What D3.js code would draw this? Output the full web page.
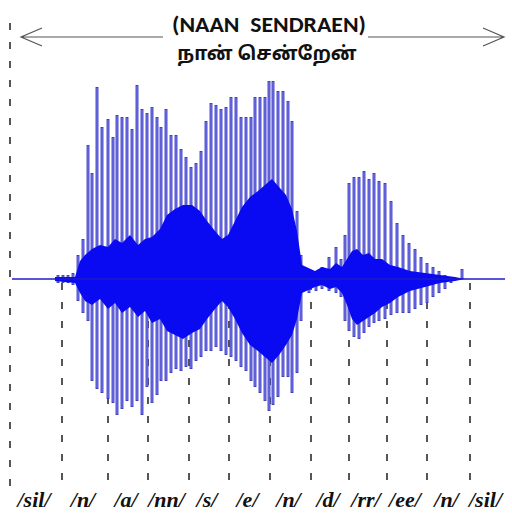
<!DOCTYPE html>
<html>
<head>
<meta charset="utf-8">
<script src="https://cdn.jsdelivr.net/npm/d3@7"></script>
<style>
  body { margin: 0; background: #fff; }
  svg { display: block; }
</style>
</head>
<body>
<svg></svg>
<script>
// phone segment boundaries (ms) and labels
let boundaries = [0, 104, 196, 276, 358, 438, 520, 602, 678, 754, 834, 920];
let phones = ["/sil/", "/n/", "/a/", "/nn/", "/s/", "/e/", "/n/", "/d/", "/rr/", "/ee/", "/n/", "/sil/"];
let endTime = 990;

// pitch pulses: time (ms), positive peak, negative peak (normalised amplitude)
let pulseTime = [96, 106, 116, 126,
    136, 146, 156, 164, 174, 184, 196, 206, 214, 224, 234, 244, 254, 264, 274, 284, 294,
    302, 312, 322, 332, 342, 352, 362, 372, 382, 392, 402, 412, 422, 432, 442, 452, 462,
    472, 482, 490, 500, 510, 518, 526, 536, 546, 556, 564, 574, 582,
    598, 612, 624, 638, 652, 662,
    670, 678, 688, 698, 708, 718, 728, 738, 750, 762, 774, 786, 798, 810, 822, 834, 846,
    858, 870, 882, 904];
let pulseHi = [0.02, 0.02, 0.02, 0.03,
    0.12, 0.20, 0.67, 0.53, 0.96, 0.76, 0.80, 0.71, 0.82, 0.81, 0.81, 0.75, 0.97, 0.85, 0.83, 0.86, 0.81,
    0.76, 0.85, 0.72, 0.72, 0.65, 0.61, 0.56, 0.58, 0.64, 0.79, 0.88, 0.87, 0.85, 0.86, 0.91, 0.91, 0.81,
    0.81, 0.81, 0.91, 0.91, 0.91, 0.99, 0.99, 0.94, 0.94, 0.89, 0.79, 0.34, 0.12,
    0.05, 0.04, 0.06, 0.11, 0.16, 0.10,
    0.22, 0.48, 0.51, 0.51, 0.54, 0.50, 0.53, 0.49, 0.48, 0.39, 0.28, 0.22, 0.18, 0.15, 0.11, 0.08, 0.06,
    0.04, 0.02, 0.01, 0.05];
let pulseLo = [-0.02, -0.02, -0.02, -0.03,
    -0.11, -0.17, -0.21, -0.51, -0.55, -0.57, -0.60, -0.62, -0.68, -0.65, -0.61, -0.64, -0.61, -0.68, -0.54, -0.62, -0.58,
    -0.51, -0.51, -0.47, -0.45, -0.46, -0.44, -0.45, -0.41, -0.39, -0.36, -0.36, -0.34, -0.36, -0.38, -0.39, -0.41, -0.44,
    -0.46, -0.51, -0.54, -0.57, -0.61, -0.66, -0.63, -0.59, -0.49, -0.49, -0.57, -0.47, -0.21,
    -0.07, -0.06, -0.05, -0.06, -0.07, -0.09,
    -0.21, -0.26, -0.29, -0.30, -0.27, -0.24, -0.22, -0.21, -0.20, -0.18, -0.17, -0.17, -0.17, -0.15, -0.13, -0.12, -0.09,
    -0.07, -0.05, -0.02, 0];

// dense inner part of the signal
let coreTime = [90, 130, 140, 150, 164, 180, 196, 210, 224, 240, 256, 270, 284, 300, 314, 330, 346, 364, 380, 394,
    410, 424, 436, 450, 464, 480, 496, 510, 524, 538, 552, 564, 574, 584,
    610, 624, 640, 652, 664, 674, 684, 694, 706, 718, 730, 744, 760, 776, 800, 830, 860, 890, 910];
let coreHi = [0.01, 0.01, 0.09, 0.12, 0.15, 0.17, 0.16, 0.20, 0.18, 0.22, 0.17, 0.20, 0.21, 0.25, 0.32, 0.35, 0.37, 0.37, 0.34, 0.29,
    0.24, 0.20, 0.22, 0.29, 0.36, 0.41, 0.44, 0.47, 0.50, 0.46, 0.42, 0.35, 0.24, 0.07,
    0.04, 0.06, 0.05, 0.08, 0.06, 0.10, 0.14, 0.15, 0.12, 0.13, 0.10, 0.10, 0.07, 0.06, 0.04, 0.03, 0.02, 0.01, 0];
let coreLo = [-0.01, -0.02, -0.07, -0.11, -0.13, -0.10, -0.15, -0.12, -0.17, -0.14, -0.19, -0.16, -0.22, -0.20, -0.26, -0.28, -0.30, -0.27, -0.25, -0.20,
    -0.15, -0.11, -0.14, -0.20, -0.27, -0.33, -0.36, -0.39, -0.42, -0.38, -0.33, -0.28, -0.20, -0.07,
    -0.04, -0.03, -0.05, -0.04, -0.07, -0.13, -0.20, -0.23, -0.21, -0.19, -0.17, -0.14, -0.12, -0.09, -0.06, -0.04, -0.02, -0.01, 0];

let width = 512, height = 519;

let svg = d3.select("svg")
    .attr("width", width)
    .attr("height", height);

let x = d3.scaleLinear().domain([0, endTime]).range([10, 505]);
let y = d3.scaleLinear().domain([-1, 1]).range([479, 79]);

// title + arrows
svg.append("text")
    .attr("x", 269).attr("y", 32)
    .attr("text-anchor", "middle")
    .attr("font-family", "Carlito, 'Liberation Sans', Arial, sans-serif")
    .attr("font-weight", "bold")
    .attr("font-size", 22)
    .attr("textLength", 194)
    .attr("lengthAdjust", "spacingAndGlyphs")
    .attr("fill", "#111")
    .style("white-space", "pre")
    .text("(NAAN  SENDRAEN)");

svg.append("text")
    .attr("x", 267).attr("y", 60)
    .attr("text-anchor", "middle")
    .attr("font-family", "'Noto Sans Tamil', 'Lohit Tamil', 'Noto Sans', sans-serif")
    .attr("font-weight", "bold")
    .attr("font-size", 19)
    .attr("fill", "#111")
    .text("நான் சென்றேன்");

let arrows = svg.append("g")
    .attr("fill", "none")
    .attr("stroke", "#555")
    .attr("stroke-width", 1.2);
arrows.append("path").attr("d", "M163,37H21M42,28L21,37L42,46");
arrows.append("path").attr("d", "M368,37H504M483,28L504,37L483,46");

// segment boundaries
svg.append("g")
    .selectAll("line")
    .data(boundaries)
    .join("line")
    .attr("x1", d => x(d)).attr("x2", d => x(d))
    .attr("y1", (d, i) => i == 0 ? 23 : y(0) + 4)
    .attr("y2", 486)
    .attr("stroke", "#444")
    .attr("stroke-width", 1.8)
    .attr("stroke-dasharray", "7,12");

// waveform
let pulses = d3.range(pulseTime.length);
let wave = svg.append("g");

wave.selectAll("line.outer")
    .data(pulses)
    .join("line")
    .attr("class", "outer")
    .attr("x1", i => x(pulseTime[i])).attr("x2", i => x(pulseTime[i]))
    .attr("y1", i => y(pulseHi[i])).attr("y2", i => y(pulseLo[i]))
    .attr("stroke", "#3f3fc4")
    .attr("stroke-width", 2.9);

wave.selectAll("line.inner")
    .data(pulses)
    .join("line")
    .attr("class", "inner")
    .attr("x1", i => x(pulseTime[i])).attr("x2", i => x(pulseTime[i]))
    .attr("y1", i => y(pulseHi[i]) + 1).attr("y2", i => y(pulseLo[i]) - 1)
    .attr("stroke", "#7676ea")
    .attr("stroke-width", 1.2);

let core = d3.area()
    .x(i => x(coreTime[i]))
    .y0(i => y(coreLo[i]))
    .y1(i => y(coreHi[i]));

wave.append("path")
    .attr("d", core(d3.range(coreTime.length)))
    .attr("fill", "#0a0af2");

wave.append("line")
    .attr("x1", x(0) + 2).attr("x2", x(endTime))
    .attr("y1", y(0)).attr("y2", y(0))
    .attr("stroke", "#1c1cc8")
    .attr("stroke-width", 1.5);

// phone labels
let ends = boundaries.slice(1).concat([endTime]);
svg.append("g")
    .selectAll("text")
    .data(phones)
    .join("text")
    .attr("x", (d, i) => (x(boundaries[i]) + x(ends[i])) / 2 - 2)
    .attr("y", 507)
    .attr("text-anchor", "middle")
    .attr("font-family", "'Liberation Serif', 'Times New Roman', serif")
    .attr("font-weight", "bold")
    .attr("font-style", "italic")
    .attr("font-size", 22)
    .attr("fill", "#111")
    .text(d => d);
</script>
</body>
</html>
